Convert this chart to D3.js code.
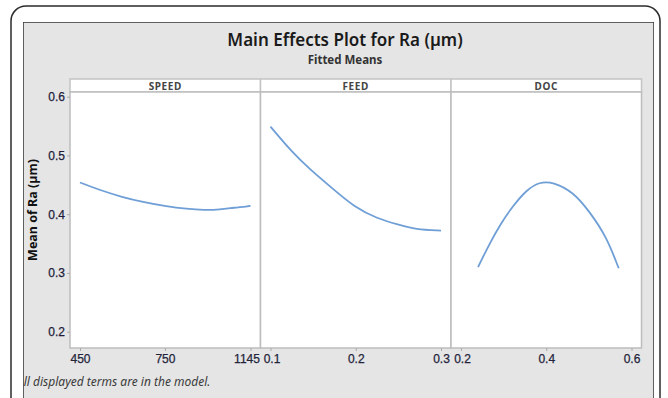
<!DOCTYPE html>
<html lang="en">
<head>
    <meta charset="UTF-8">
    <title>Main Effects Plot for Ra</title>
    <script src="https://d3js.org/d3.v7.min.js"></script>
    <style>
        body {
            margin: 0;
            background-color: #ffffff;
            font-family: 'Noto Sans', 'Open Sans', sans-serif;
        }
        svg { display: block; }
    </style>
</head>
<body>
    <svg id="chart" width="668" height="398"></svg>

    <script>
        // ---- data ----
        const factors = ["SPEED", "FEED", "DOC"];

        const speedLevels = [450, 520, 600, 670, 760, 850, 930, 1005, 1065, 1145];
        const speedMeans = [0.454, 0.441, 0.429, 0.421, 0.413, 0.409, 0.407, 0.408, 0.411, 0.414];

        const feedLevels = [0.10, 0.125, 0.145, 0.17, 0.20, 0.225, 0.25, 0.27, 0.30];
        const feedMeans = [0.549, 0.506, 0.478, 0.447, 0.410, 0.393, 0.382, 0.374, 0.372];

        const docLevels = [0.24, 0.267, 0.294, 0.321, 0.353, 0.384, 0.416, 0.463, 0.502, 0.541, 0.57];
        const docMeans = [0.310, 0.350, 0.385, 0.413, 0.441, 0.455, 0.455, 0.438, 0.404, 0.362, 0.308];

        const speedTicks = [450, 750, 1145];
        const feedTicks = [0.1, 0.2, 0.3];
        const docTicks = [0.2, 0.4, 0.6];
        const yTicks = [0.2, 0.3, 0.4, 0.5, 0.6];

        const svg = d3.select("#chart");
        const tickFont = "'Liberation Sans', Arial, sans-serif";

        // outer card + gray minitab frame
        svg.append("rect")
            .attr("x", 11).attr("y", 6)
            .attr("width", 649).attr("height", 420)
            .attr("rx", 15).attr("ry", 15)
            .attr("fill", "#fff")
            .attr("stroke", "#2b2b2b")
            .attr("stroke-width", 1.5);

        svg.append("defs").append("clipPath").attr("id", "frameClip")
            .append("rect").attr("x", 23).attr("y", 22).attr("width", 631).attr("height", 400);

        const frame = svg.append("g").attr("clip-path", "url(#frameClip)");
        frame.append("rect")
            .attr("x", 23).attr("y", 22)
            .attr("width", 631).attr("height", 400)
            .attr("fill", "#e5e5e5")
            .attr("stroke", "#333")
            .attr("stroke-width", 1.5);

        // titles
        svg.append("text")
            .attr("x", 345).attr("y", 46)
            .attr("text-anchor", "middle")
            .attr("font-size", 17)
            .attr("font-weight", 600)
            .attr("fill", "#1a1a1a")
            .text("Main Effects Plot for Ra (µm)");
        svg.append("text")
            .attr("x", 345).attr("y", 64)
            .attr("text-anchor", "middle")
            .attr("font-size", 11.5)
            .attr("font-weight", "bold")
            .attr("fill", "#333")
            .text("Fitted Means");

        // layout
        const left = 70, right = 641.5, stripTop = 79, plotTop = 92, plotBottom = 348;
        const panelW = (right - left) / 3;
        const inset = 10;

        const y = d3.scaleLinear().domain([0.2, 0.6]).range([331.7, 96.7]);

        const panels = [
            { name: factors[0], levels: speedLevels, means: speedMeans, ticks: speedTicks,
              dom: [450, 750, 1145], fmt: d3.format("d") },
            { name: factors[1], levels: feedLevels, means: feedMeans, ticks: feedTicks,
              dom: [0.1, 0.3], fmt: d3.format(".1f") },
            { name: factors[2], levels: docLevels, means: docMeans, ticks: docTicks,
              dom: [0.2, 0.6], fmt: d3.format(".1f") }
        ];

        const line = d3.line().curve(d3.curveBasis);

        panels.forEach((p, i) => {
            const x0 = left + i * panelW;
            const x1 = x0 + panelW;
            const range = p.dom.length === 3
                ? [x0 + inset, x0 + panelW / 2 - 0.3, x1 - inset]
                : [x0 + inset, x1 - inset];
            const x = d3.scaleLinear().domain(p.dom).range(range);

            const g = svg.append("g");

            // strip
            g.append("rect")
                .attr("x", x0).attr("y", stripTop)
                .attr("width", panelW).attr("height", plotTop - stripTop)
                .attr("fill", "#fff")
                .attr("stroke", "#c4c4c4")
                .attr("stroke-width", 1.5);
            g.append("text")
                .attr("x", (x0 + x1) / 2).attr("y", plotTop - 2.5)
                .attr("text-anchor", "middle")
                .attr("font-size", 10)
                .attr("font-weight", "bold")
                .attr("letter-spacing", 0.6)
                .attr("fill", "#444")
                .text(p.name);

            // plot area
            g.append("rect")
                .attr("x", x0).attr("y", plotTop)
                .attr("width", panelW).attr("height", plotBottom - plotTop)
                .attr("fill", "#fff")
                .attr("stroke", "#bdbdbd")
                .attr("stroke-width", 1.5);

            // x axis
            const xAxis = g.append("g")
                .attr("transform", `translate(0,${plotBottom})`)
                .call(d3.axisBottom(x).tickValues(p.ticks).tickFormat(p.fmt).tickSize(3).tickPadding(3));
            xAxis.select(".domain").remove();
            xAxis.selectAll("line").attr("stroke", "#aaa");
            xAxis.selectAll("text")
                .attr("font-family", tickFont)
                .attr("font-size", 12)
                .attr("fill", "#23233a")
                .attr("stroke", "#23233a")
                .attr("stroke-width", 0.25)
                .attr("dx", (d, k) => (i === 0 && k === 2) ? -4 : (k === 0 && i > 0 ? 1 : 0));

            g.append("path")
                .attr("d", line(p.levels.map((v, k) => [x(v), y(p.means[k])])))
                .attr("fill", "none")
                .attr("stroke", "#6f9fd6")
                .attr("stroke-width", 1.8);
        });

        // y axis
        const yAxis = svg.append("g")
            .attr("transform", `translate(${left},0)`)
            .call(d3.axisLeft(y).tickValues(yTicks).tickFormat(d3.format(".1f")).tickSize(3).tickPadding(2));
        yAxis.select(".domain").remove();
        yAxis.selectAll("line").attr("stroke", "#aaa");
        yAxis.selectAll("text")
            .attr("font-family", tickFont)
            .attr("font-size", 12)
            .attr("fill", "#1c1c3a")
            .attr("stroke", "#1c1c3a")
            .attr("stroke-width", 0.25);

        svg.append("text")
            .attr("transform", "translate(37,210) rotate(-90)")
            .attr("text-anchor", "middle")
            .attr("font-size", 12.5)
            .attr("font-weight", "bold")
            .attr("fill", "#111")
            .text("Mean of Ra (µm)");

        // footer note, clipped by the frame like the original
        frame.append("text")
            .attr("x", 17).attr("y", 386)
            .attr("font-size", 12)
            .attr("font-style", "italic")
            .attr("fill", "#3a3a3a")
            .text("All displayed terms are in the model.");
    </script>
</body>
</html>
